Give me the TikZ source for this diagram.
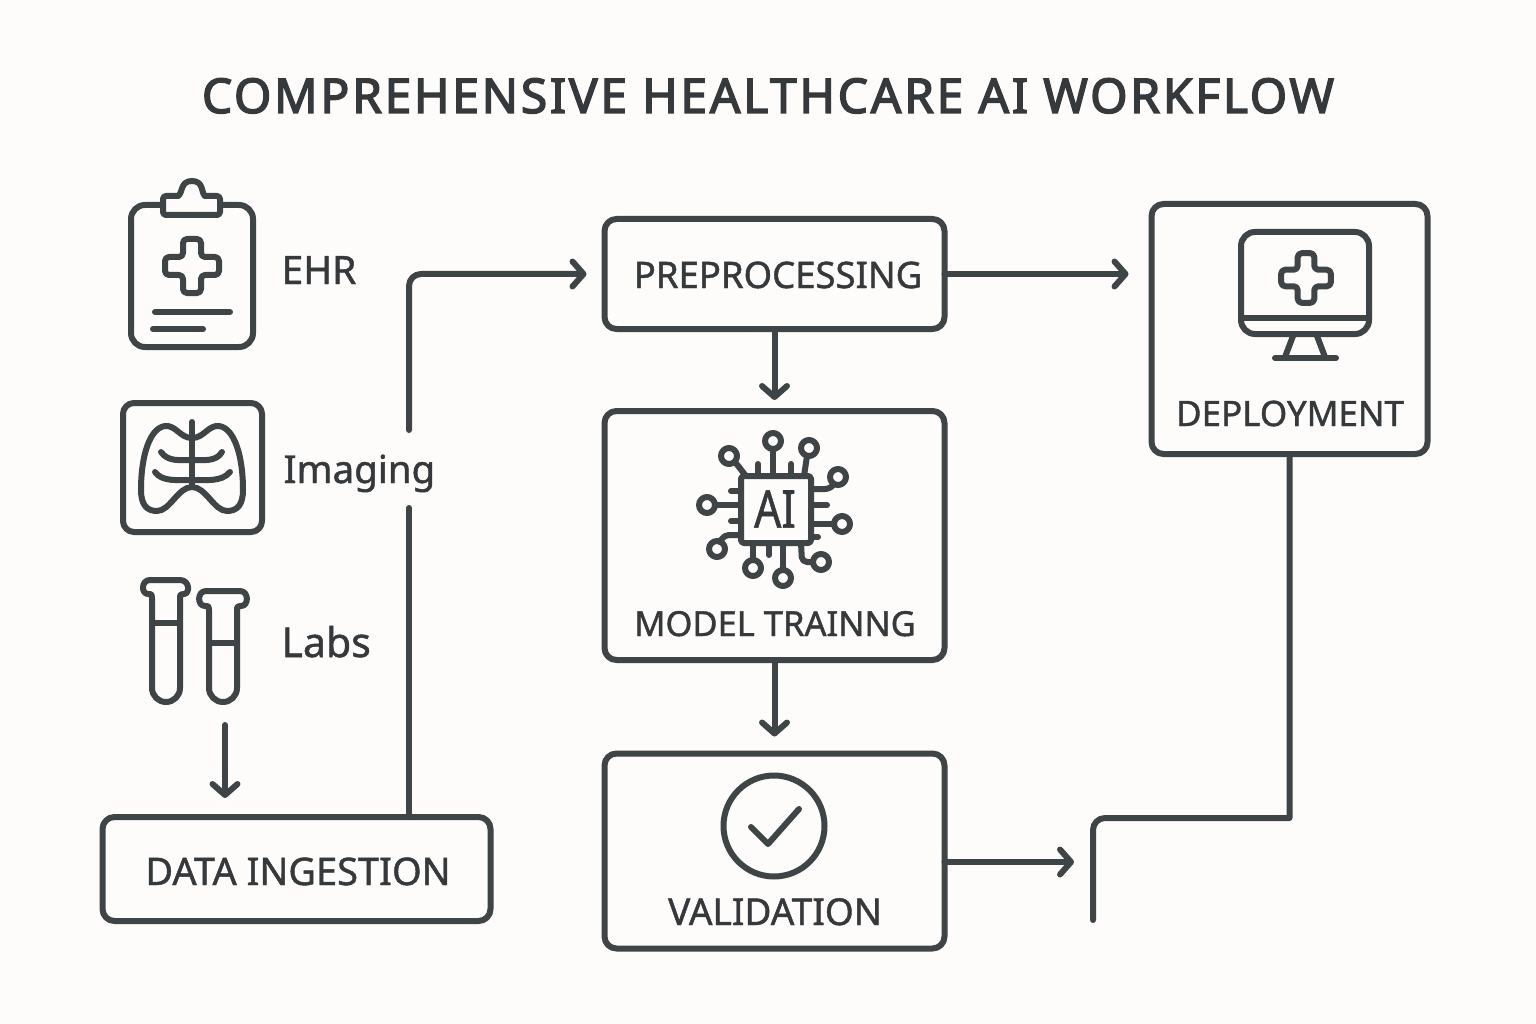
\documentclass[tikz,border=0pt]{standalone}
\usepackage{fontspec}
\setmainfont[FakeBold=1.2]{Noto Sans}
\newfontfamily\titlefont[LetterSpace=5.6,FakeBold=3]{Noto Sans}
\usepackage{xcolor}
\usepackage{tikz}
\usetikzlibrary{arrows.meta}
\definecolor{ink}{HTML}{3F4447}
\definecolor{inktext}{HTML}{35393C}
\definecolor{paper}{HTML}{FDFCFA}

\tikzset{
  stroke/.style    = {draw=ink, line width=6pt, line cap=round, line join=round},
  flow/.style      = {stroke, -{Straight Barb[length=11pt,width=25pt,round]}},
  stagebox/.style  = {stroke, rounded corners=12pt, outer sep=0pt, inner sep=0pt},
  stagetext/.style = {text=inktext, anchor=base, font=\fontsize{#1}{40}\selectfont},
  srctext/.style   = {text=inktext, anchor=base west, font=\fontsize{#1}{42}\selectfont},
  medcross/.pic    = {
    \draw[stroke, rounded corners=4pt] (-9,-27) -- (9,-27) -- (9,-9) -- (27,-9) -- (27,9) -- (9,9)
      -- (9,27) -- (-9,27) -- (-9,9) -- (-27,9) -- (-27,-9) -- (-9,-9) -- cycle;
  }
}

\begin{document}
\begin{tikzpicture}[x=1pt, y=-1pt]
\fill[paper] (0,0) rectangle (1536,1024);
\useasboundingbox (0,0) rectangle (1536,1024);

\node[text=inktext, anchor=base, font=\titlefont\fontsize{48}{54}\selectfont] (title) at (768,113) {COMPREHENSIVE HEALTHCARE AI WORKFLOW};

% stages
\node[stagebox, minimum width=388pt, minimum height=104pt] (ingest)  at (296.5,869) {};
\node[stagebox, minimum width=340pt, minimum height=110pt] (preproc) at (774.5,274) {};
\node[stagebox, minimum width=340pt, minimum height=249pt] (model)   at (774.5,535.5) {};
\node[stagebox, minimum width=340pt, minimum height=195pt] (valid)   at (774.5,851) {};
\node[stagebox, minimum width=276pt, minimum height=250pt] (deploy)  at (1289.5,329) {};

\node[stagetext=38]   (ingesttext)  at (298,885) {DATA INGESTION};
\node[stagetext=36.5] (preproctext) at (778,288) {PREPROCESSING};
\node[stagetext=34.5] (modeltext)   at (775,636) {MODEL TRAINNG};
\node[stagetext=37]   (validtext)   at (775,925) {VALIDATION};
\node[stagetext=35]   (deploytext)  at (1290,426) {DEPLOYMENT};

\node[srctext=39]   (ehr)     at (278,284) {EHR};
\node[srctext=38.5] (imaging) at (280,483) {Imaging};
\node[srctext=41]   (labs)    at (278,657) {Labs};

% clipboard
\draw[stroke, rounded corners=14pt] (165,205) -- (131,205) -- (131,347) -- (253,347) -- (253,205) -- (218,205);
\draw[stroke, rounded corners=3pt, fill=paper] (178,196) -- (163,196) -- (163,215) -- (220,215) -- (220,196) -- (205,196);
\draw[stroke] (178,196) .. controls (183,193) and (180,181) .. (192,181) .. controls (204,181) and (201,193) .. (205,196);
\pic at (192,266) {medcross};
\draw[stroke] (155,312) -- (230,312);
\draw[stroke] (153,329) -- (203,329);

% x-ray
\draw[stroke, rounded corners=11pt] (123,403) rectangle (262,532);
\draw[stroke] (192,422) -- (192,487);
\draw[stroke] (192,438) .. controls (180,438) and (176,425) .. (165,426) .. controls (150,428) and (141,455) .. (141,490)
  .. controls (141,505) and (147,511) .. (157,511) .. controls (170,511) and (178,487) .. (192,487)
  .. controls (206,487) and (214,511) .. (227,511) .. controls (237,511) and (243,505) .. (243,490)
  .. controls (243,455) and (234,428) .. (219,426) .. controls (208,425) and (204,438) .. (192,438);
\draw[stroke] (161,452) .. controls (168,462) and (180,460) .. (192,460) .. controls (204,460) and (216,462) .. (222,452);
\draw[stroke] (155,472) .. controls (162,482) and (178,480) .. (192,480) .. controls (206,480) and (222,482) .. (230,472);

% tubes
\draw[stroke, rounded corners=14pt] (152,598) -- (152,702) -- (180,702) -- (180,598);
\draw[stroke] (152,598) .. controls (152,593) and (150,594) .. (148,594) .. controls (141,594) and (141,580) .. (150,580)
  -- (180,580) .. controls (190,580) and (190,594) .. (184,594) .. controls (181,594) and (180,594) .. (180,598);
\draw[stroke] (152,623) -- (180,623);
\draw[stroke, rounded corners=14pt] (209,610) -- (209,702) -- (237,702) -- (237,610);
\draw[stroke] (209,610) .. controls (209,605) and (207,606) .. (205,606) .. controls (197,606) and (197,591) .. (206,591)
  -- (240,591) .. controls (249,591) and (249,606) .. (241,606) .. controls (238,606) and (237,606) .. (237,610);
\draw[stroke] (209,643) -- (237,643);

% chip
\draw[stroke, rounded corners=3pt] (741,476) rectangle (811,543);
\node[text=inktext, font=\fontsize{52}{56}\selectfont] (chiptext) at (775,509) {\scalebox{.82}[1]{AI}};
\foreach \cx/\cy in {773/441, 809/448, 729/456, 838/477, 707/505, 842/524, 717/549, 753/568, 783/578, 821/562}
  \draw[stroke] (\cx,\cy) circle[radius=8pt];
\foreach \ax/\ay/\bx/\by in {773/449/773/476, 807/456/804/476, 735/462/746/476, 715/505/741/505, 811/524/834/524,
    753/543/753/560, 783/543/783/570, 758/476/758/464, 791/476/791/464, 731/491/741/491, 731/521/741/521,
    811/505/827/505, 811/537/818/537, 769/543/769/555}
  \draw[stroke] (\ax,\ay) -- (\bx,\by);
\draw[stroke, rounded corners=5pt] (811,489) -- (830,489) -- (834,484);
\draw[stroke, rounded corners=5pt] (741,535) -- (724,535) -- (720,542);
\draw[stroke, rounded corners=5pt] (801,543) -- (802,562) -- (813,562);

% check
\draw[stroke] (774,826) circle[radius=50.5pt];
\draw[stroke] (751,827) -- (768,844) -- (799,809);

% monitor
\draw[stroke, rounded corners=14pt] (1241,232) rectangle (1369,334);
\draw[stroke] (1241,318) -- (1369,318);
\draw[stroke] (1293,336) -- (1285,357);
\draw[stroke] (1317,336) -- (1325,357);
\draw[stroke] (1275,358) -- (1336,358);
\pic[scale=.92] at (1306,278) {medcross};

% connectors
\coordinate (labsout)  at (225,725);
\coordinate (labsin)   at (225,798);
\coordinate (gapbelow) at (409,508);
\coordinate (gapabove) at (409,430);
\coordinate (joinend)  at (1074,862);
\coordinate (elbow)    at (1289.5,818);
\coordinate (tail)     at (1093,920);

\draw[flow] (labsout) -- (labsin);
\draw[stroke] (ingest.north -| gapbelow) -- (gapbelow);
\draw[flow, rounded corners=12pt, shorten >=18pt] (gapabove) |- (preproc.west);
\draw[flow, shorten >=23pt] (preproc.east) -- (preproc.east -| deploy.west);
\draw[flow, shorten >=11pt] (preproc.south) -- (model.north);
\draw[flow, shorten >=17pt] (model.south) -- (valid.north);
\draw[flow] (valid.east |- joinend) -- (joinend);
\draw[stroke] (deploy.south) -- (elbow) [rounded corners=12pt] -- (elbow -| tail) -- (tail);
\end{tikzpicture}
\end{document}
